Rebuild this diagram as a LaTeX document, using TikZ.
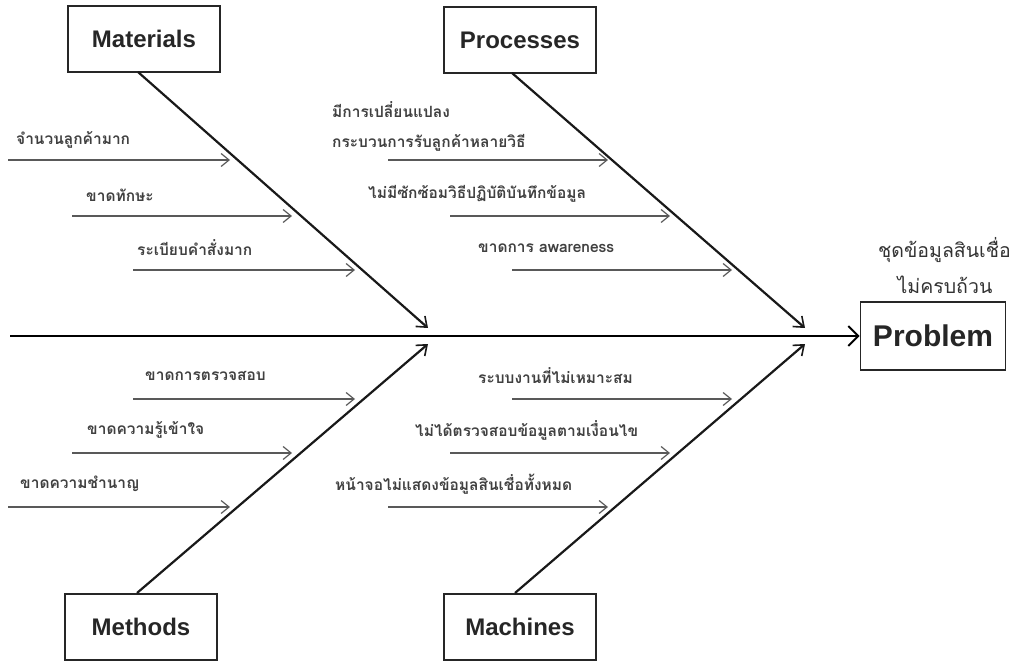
\documentclass[tikz,border=0pt]{standalone}
\usepackage{fontspec}
\setmainfont{Liberation Sans}
\newfontfamily\thaifont[Script=Thai]{Loma}
\usetikzlibrary{arrows.meta}
\tikzset{
  catbox/.style={draw=black!85, line width=1.6pt, minimum width=152pt, minimum height=66pt, inner sep=0pt, font=\bfseries\fontsize{24}{28}\selectfont, text=black!85},
  bone/.style={line width=2.2pt, draw=black!90, -{Straight Barb[length=9pt,width=14pt,line width=1.6pt]}},
  sub/.style={line width=1.4pt, draw=black!65, -{Straight Barb[length=8pt,width=13pt,line width=1.2pt]}},
  lbl/.style={font=\thaifont\bfseries\fontsize{15.5}{18}\selectfont, text=black!75, inner sep=0pt, anchor=west},
  desc/.style={font=\thaifont\fontsize{19.5}{22}\selectfont, text=black!80, inner sep=0pt},
}
\begin{document}
\begin{tikzpicture}[x=1pt,y=-1pt]
\useasboundingbox (0,0) rectangle (1010,663);
% category boxes
\node[catbox] (mat) at (144,39) {Materials};
\node[catbox] (pro) at (520,40) {Processes};
\node[catbox] (met) at (141,627) {Methods};
\node[catbox] (mac) at (520,627) {Machines};
\node[catbox, minimum width=145pt, minimum height=68pt, font=\bfseries\fontsize{30}{34}\selectfont] (prob) at (933,336) {Problem};
% spine
\coordinate (s0) at (10,336);
\draw[line width=2.6pt, -{Straight Barb[length=10pt,width=20pt,line width=2pt]}] (s0) -- (prob.west);
% bones
\coordinate (m1) at (138,72);   \coordinate (m2) at (428,328);
\coordinate (p1) at (512,73);   \coordinate (p2) at (805,328);
\coordinate (t1) at (137,593);  \coordinate (t2) at (428,344);
\coordinate (c1) at (515,593);  \coordinate (c2) at (805,344);
\draw[bone] (m1) -- (m2);
\draw[bone] (p1) -- (p2);
\draw[bone] (t1) -- (t2);
\draw[bone] (c1) -- (c2);
% Materials sub causes
\coordinate (a1) at (8,160);   \coordinate (a1h) at (230,160);
\coordinate (a2) at (72,216);  \coordinate (a2h) at (292,216);
\coordinate (a3) at (133,270); \coordinate (a3h) at (355,270);
\draw[sub] (a1) -- (a1h);
\draw[sub] (a2) -- (a2h);
\draw[sub] (a3) -- (a3h);
\node[lbl] (la1) at (16,140) {จำนวนลูกค้ามาก};
\node[lbl] (la2) at (86,195) {ขาดทักษะ};
\node[lbl] (la3) at (137,248) {ระเบียบคำสั่งมาก};
% Processes sub causes
\coordinate (b1) at (388,160); \coordinate (b1h) at (608,160);
\coordinate (b2) at (450,216); \coordinate (b2h) at (670,216);
\coordinate (b3) at (512,270); \coordinate (b3h) at (732,270);
\draw[sub] (b1) -- (b1h);
\draw[sub] (b2) -- (b2h);
\draw[sub] (b3) -- (b3h);
\node[lbl] (lb1a) at (332,110) {มีการเปลี่ยนแปลง};
\node[lbl] (lb1b) at (332,143) {กระบวนการรับลูกค้าหลายวิธี};
\node[lbl] (lb2) at (368,194) {ไม่มีซักซ้อมวิธีปฏิบัติบันทึกข้อมูล};
\node[lbl] (lb3) at (478,248) {ขาดการ awareness};
% Methods sub causes
\coordinate (d1) at (133,399); \coordinate (d1h) at (355,399);
\coordinate (d2) at (72,453);  \coordinate (d2h) at (292,453);
\coordinate (d3) at (8,507);   \coordinate (d3h) at (230,507);
\draw[sub] (d1) -- (d1h);
\draw[sub] (d2) -- (d2h);
\draw[sub] (d3) -- (d3h);
\node[lbl] (ld1) at (145,376) {ขาดการตรวจสอบ};
\node[lbl] (ld2) at (87,430) {ขาดความรู้เข้าใจ};
\node[lbl] (ld3) at (20,484) {ขาดความชำนาญ};
% Machines sub causes
\coordinate (e1) at (512,399); \coordinate (e1h) at (732,399);
\coordinate (e2) at (450,453); \coordinate (e2h) at (670,453);
\coordinate (e3) at (388,507); \coordinate (e3h) at (608,507);
\draw[sub] (e1) -- (e1h);
\draw[sub] (e2) -- (e2h);
\draw[sub] (e3) -- (e3h);
\node[lbl] (le1) at (478,376) {ระบบงานที่ไม่เหมาะสม};
\node[lbl] (le2) at (415,430) {ไม่ได้ตรวจสอบข้อมูลตามเงื่อนไข};
\node[lbl] (le3) at (335,484) {หน้าจอไม่แสดงข้อมูลสินเชื่อทั้งหมด};
% problem description
\node[desc, anchor=west] (pd1) at (878,250) {ชุดข้อมูลสินเชื่อ};
\node[desc, anchor=center] (pd2) at (945,285) {ไม่ครบถ้วน};
\end{tikzpicture}
\end{document}
